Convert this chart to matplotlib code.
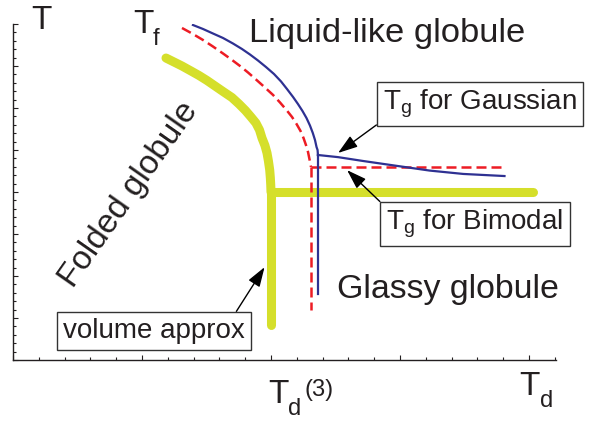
import matplotlib
matplotlib.use('Agg')
from matplotlib import pyplot as plt
from matplotlib.ticker import MultipleLocator

plt.rcParams['font.family'] = ['Liberation Sans', 'DejaVu Sans']
plt.rcParams['mathtext.fontset'] = 'custom'
plt.rcParams['mathtext.rm'] = 'Liberation Sans'

# folding boundary (volume approximation), T vs Td
fold_x = [1.186, 1.248, 1.310, 1.380, 1.442, 1.504, 1.566, 1.628, 1.697, 1.752, 1.802,
          1.845, 1.883, 1.911, 1.930, 1.953, 1.969, 1.980, 1.990, 1.995, 1.998, 2.0]
fold_y = [7.190, 7.095, 7.0, 6.881, 6.774, 6.655, 6.524, 6.393, 6.25, 6.095, 5.940,
          5.786, 5.643, 5.476, 5.286, 5.107, 4.929, 4.738, 4.524, 4.333, 4.167, 4.0]
fold_vert_x = [2.0, 2.0]
fold_vert_y = [4.0, 0.83]
fold_glass_x = [2.0, 4.03]
fold_glass_y = [4.0, 4.0]

# Gaussian
gauss_x = [1.395, 1.473, 1.550, 1.628, 1.705, 1.775, 1.837, 1.899, 1.961, 2.023, 2.078,
           2.124, 2.171, 2.209, 2.244, 2.275, 2.302, 2.324, 2.341, 2.353, 2.361, 2.364]
gauss_y = [7.976, 7.881, 7.774, 7.667, 7.536, 7.405, 7.274, 7.131, 6.976, 6.810, 6.631,
           6.452, 6.262, 6.095, 5.929, 5.762, 5.583, 5.405, 5.238, 5.071, 5.0, 4.881]
gauss_vert_x = [2.364, 2.364]
gauss_vert_y = [4.881, 1.57]
gauss_tg_x = [2.364, 2.52, 2.71, 2.98, 3.23, 3.49, 3.81]
gauss_tg_y = [4.881, 4.83, 4.74, 4.62, 4.51, 4.43, 4.38]

# Bimodal
bimod_x = [1.310, 1.388, 1.473, 1.550, 1.628, 1.698, 1.760, 1.822, 1.888, 1.953, 2.016,
           2.070, 2.120, 2.163, 2.198, 2.229, 2.252, 2.271, 2.287, 2.298, 2.306, 2.310]
bimod_y = [7.905, 7.774, 7.619, 7.464, 7.298, 7.143, 7.0, 6.845, 6.667, 6.488, 6.310,
           6.131, 5.952, 5.786, 5.619, 5.452, 5.286, 5.119, 4.952, 4.786, 4.667, 4.595]
bimod_vert_x = [2.310, 2.310]
bimod_vert_y = [4.595, 1.19]
bimod_tg_x = [2.310, 3.79]
bimod_tg_y = [4.595, 4.595]

W, H = 603, 422
TXT = '#231f20'
YEL = '#d5df2b'
BLUE = '#2e3192'
RED = '#ed1c24'


def px(x, y):
    # pixel position (from top-left) -> figure fraction
    return x / W, 1 - y / H


fig = plt.figure(figsize=(W / 100, H / 100), dpi=100)
ax = fig.add_axes([13 / W, 1 - 360 / H, 543 / W, 336 / H])

ax.plot(fold_x, fold_y, color=YEL, lw=6.5, solid_capstyle='round', solid_joinstyle='round')
ax.plot(fold_vert_x, fold_vert_y, color=YEL, lw=6.5, solid_capstyle='round')
ax.plot(fold_glass_x, fold_glass_y, color=YEL, lw=6.5, solid_capstyle='round')

dash = (0, (4, 2))
ax.plot(bimod_x, bimod_y, color=RED, lw=1.8, ls=dash)
ax.plot(bimod_vert_x, bimod_vert_y, color=RED, lw=1.8, ls=dash)
ax.plot(bimod_tg_x, bimod_tg_y, color=RED, lw=1.8, ls=dash)

ax.plot(gauss_x, gauss_y, color=BLUE, lw=1.6)
ax.plot(gauss_vert_x, gauss_vert_y, color=BLUE, lw=1.6)
ax.plot(gauss_tg_x, gauss_tg_y, color=BLUE, lw=1.6)

ax.set_xlim(0, 543 / 129)
ax.set_ylim(0, 8)
ax.xaxis.set_major_locator(MultipleLocator(1))
ax.xaxis.set_minor_locator(MultipleLocator(0.2))
ax.yaxis.set_major_locator(MultipleLocator(1))
ax.yaxis.set_minor_locator(MultipleLocator(0.2))
ax.tick_params(which='both', direction='in', labelbottom=False, labelleft=False,
               color=TXT, width=0.8)
ax.tick_params(which='major', length=3.5)
ax.tick_params(which='minor', length=2.5)
for s in ['top', 'right']:
    ax.spines[s].set_visible(False)
for s in ['left', 'bottom']:
    ax.spines[s].set_color(TXT)
    ax.spines[s].set_linewidth(1.0)

# axis names
fig.text(*px(41, 29), 'T', fontsize=24, color=TXT, ha='center', va='baseline')
fig.text(*px(133, 33), 'T', fontsize=24, color=TXT, ha='left', va='baseline')
fig.text(*px(153, 45), 'f', fontsize=17, color=TXT, ha='left', va='baseline')
fig.text(*px(268, 403), 'T', fontsize=24, color=TXT, ha='left', va='baseline')
fig.text(*px(288, 415), 'd', fontsize=17, color=TXT, ha='left', va='baseline')
fig.text(*px(304, 396), '(3)', fontsize=17, color=TXT, ha='left', va='baseline')
fig.text(*px(519, 395), 'T', fontsize=24, color=TXT, ha='left', va='baseline')
fig.text(*px(540, 407), 'd', fontsize=17, color=TXT, ha='left', va='baseline')

# phase names
fig.text(*px(249, 42), 'Liquid-like globule', fontsize=24.8, color=TXT,
         ha='left', va='baseline')
fig.text(*px(337, 298), 'Glassy globule', fontsize=24.4, color=TXT,
         ha='left', va='baseline')
fig.text(*px(129, 195), 'Folded globule', fontsize=24, color=TXT,
         ha='center', va='center', rotation=55, rotation_mode='anchor')

box = dict(boxstyle='square,pad=0.22', fc='white', ec='#333333', lw=1)
arrow = dict(arrowstyle='-|>,head_length=0.6,head_width=0.2', color='black',
             lw=1, shrinkA=0, shrinkB=0)

ax.annotate(r'$\mathregular{T_g}$ for Gaussian', xy=(2.52, 4.93),
            xytext=(480, H - 104), textcoords='figure pixels',
            fontsize=20, color=TXT, ha='center', va='center', bbox=box,
            arrowprops=dict(arrow, relpos=(0, 0)))
ax.annotate(r'$\mathregular{T_g}$ for Bimodal', xy=(2.59, 4.52),
            xytext=(475, H - 224), textcoords='figure pixels',
            fontsize=20, color=TXT, ha='center', va='center', bbox=box,
            arrowprops=dict(arrow, relpos=(0, 1)))
ax.annotate('volume approx', xy=(1.95, 2.21),
            xytext=(154, H - 331), textcoords='figure pixels',
            fontsize=20, color=TXT, ha='center', va='center', bbox=box,
            arrowprops=dict(arrow, relpos=(0.93, 1)))

fig.savefig('out.png', dpi=100)
